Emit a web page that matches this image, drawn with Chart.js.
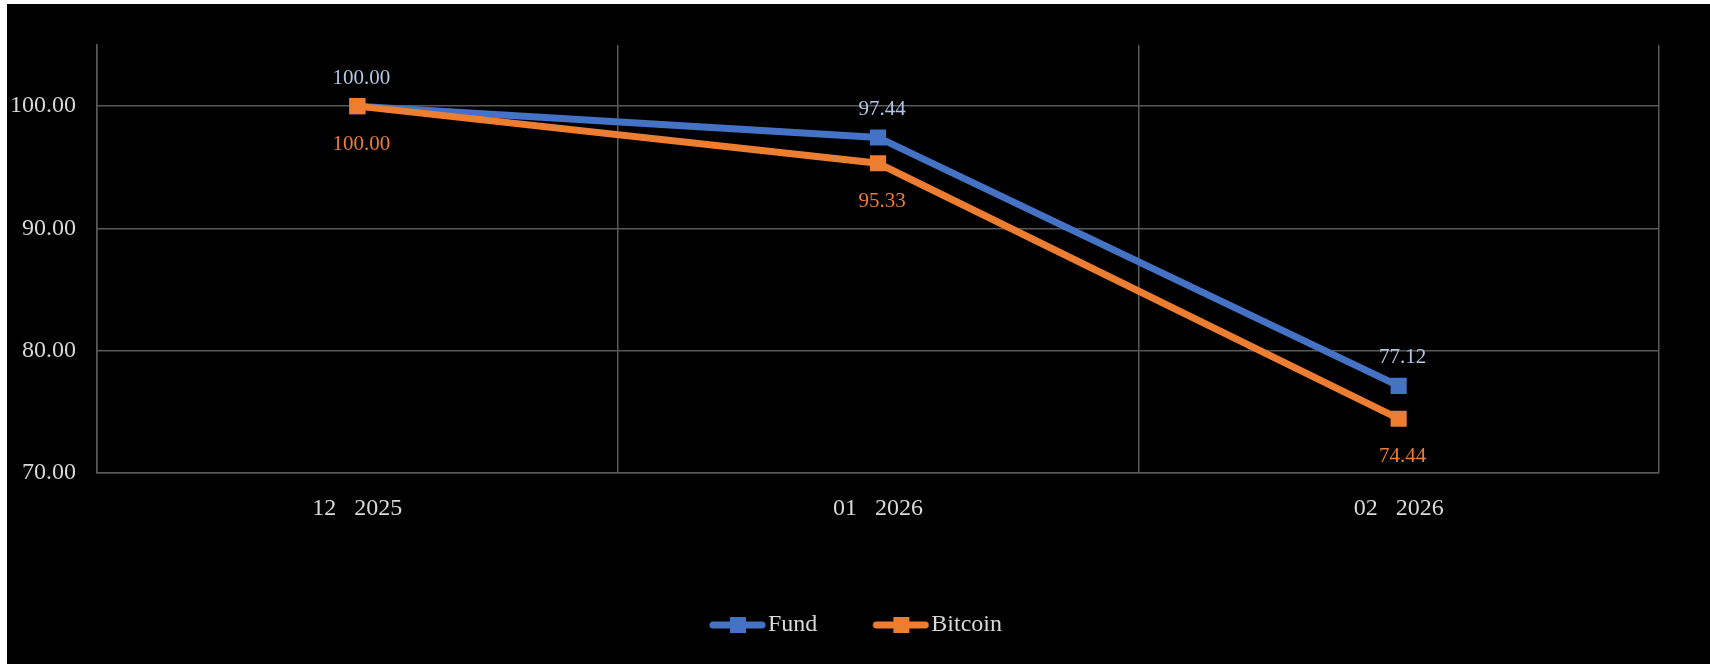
<!DOCTYPE html>
<html>
<head>
<meta charset="utf-8">
<script src="https://cdn.jsdelivr.net/npm/chart.js@4.4.1/dist/chart.umd.min.js"></script>
<style>
  html, body { margin: 0; padding: 0; background: #fff; }
  #wrap { position: absolute; left: 7px; top: 4px; width: 1703px; height: 660px; background: #000; }
</style>
</head>
<body>
<div id="wrap"><canvas id="chart"></canvas></div>
<script>
const months = ['12   2025', '01   2026', '02   2026'];
const fundValues = [100.00, 97.44, 77.12];
const bitcoinValues = [100.00, 95.33, 74.44];
const yTicks = [70, 80, 90, 100];

const BLUE = '#4472C4';
const ORANGE = '#ED7D31';
const GRID = '#595959';

Chart.defaults.font.family = '"Liberation Serif", "DejaVu Serif", serif';
Chart.defaults.font.size = 24;
Chart.defaults.color = '#d9d9d9';

// legend marker: line with a square in the middle (left half of the image is blank)
function legendMarker(color) {
  const c = document.createElement('canvas');
  c.width = 112;
  c.height = 18;
  const g = c.getContext('2d');
  g.strokeStyle = color;
  g.lineWidth = 7;
  g.lineCap = 'round';
  g.beginPath();
  g.moveTo(59, 9);
  g.lineTo(108, 9);
  g.stroke();
  g.fillStyle = color;
  g.fillRect(76, 1, 16, 16);
  return c;
}

// value labels: Fund above the point, Bitcoin below
const valueLabels = {
  id: 'valueLabels',
  afterDatasetsDraw(chart) {
    const ctx = chart.ctx;
    ctx.save();
    ctx.font = '21px "Liberation Serif", serif';
    ctx.textAlign = 'center';
    ctx.textBaseline = 'middle';
    chart.data.datasets.forEach((ds, i) => {
      const meta = chart.getDatasetMeta(i);
      meta.data.forEach((pt, j) => {
        ctx.fillStyle = ds.labelColor;
        ctx.fillText(ds.data[j].toFixed(2), pt.x + 4, pt.y + ds.labelOffset);
      });
    });
    ctx.restore();
  }
};

new Chart(document.getElementById('chart'), {
  type: 'line',
  data: {
    labels: months,
    datasets: [{
      label: 'Fund',
      data: fundValues,
      borderColor: BLUE,
      backgroundColor: BLUE,
      borderWidth: 7,
      pointStyle: 'rect',
      pointRadius: 10,
      pointHoverRadius: 10,
      pointBorderWidth: 2,
      tension: 0,
      order: 1,
      labelColor: '#b4c7e7',
      labelOffset: -28
    }, {
      label: 'Bitcoin',
      data: bitcoinValues,
      borderColor: ORANGE,
      backgroundColor: ORANGE,
      borderWidth: 7,
      pointStyle: 'rect',
      pointRadius: 10,
      pointHoverRadius: 10,
      pointBorderWidth: 2,
      tension: 0,
      order: 0,
      labelColor: ORANGE,
      labelOffset: 38
    }]
  },
  options: {
    responsive: true,
    maintainAspectRatio: false,
    animation: false,
    layout: { padding: { left: 0, right: 51, top: 41, bottom: 17 } },
    plugins: {
      tooltip: { enabled: false },
      legend: {
        position: 'bottom',
        labels: {
          usePointStyle: true,
          pointStyleWidth: 92,
          padding: 10,
          color: '#d9d9d9',
          sort: (a, b) => a.datasetIndex - b.datasetIndex,
          generateLabels(chart) {
            return chart.data.datasets.map((ds, i) => ({
              text: ds.label,
              datasetIndex: i,
              fontColor: '#d9d9d9',
              pointStyle: legendMarker(ds.borderColor),
              lineWidth: 0,
              hidden: false
            }));
          }
        }
      }
    },
    scales: {
      x: {
        offset: true,
        grid: { color: GRID, lineWidth: 1.5, offset: true, drawTicks: false },
        border: { color: GRID, width: 1.5 },
        ticks: { padding: 21 },
        afterFit(scale) { scale.height = 130; }
      },
      y: {
        min: 70,
        max: 105,
        grid: { color: GRID, lineWidth: 1.5, drawTicks: false },
        border: { color: GRID, width: 1.5 },
        ticks: { padding: 21, callback: v => v.toFixed(2) },
        afterBuildTicks(scale) { scale.ticks = yTicks.map(v => ({ value: v })); },
        afterFit(scale) { scale.width = 90; }
      }
    }
  },
  plugins: [valueLabels]
});
</script>
</body>
</html>
